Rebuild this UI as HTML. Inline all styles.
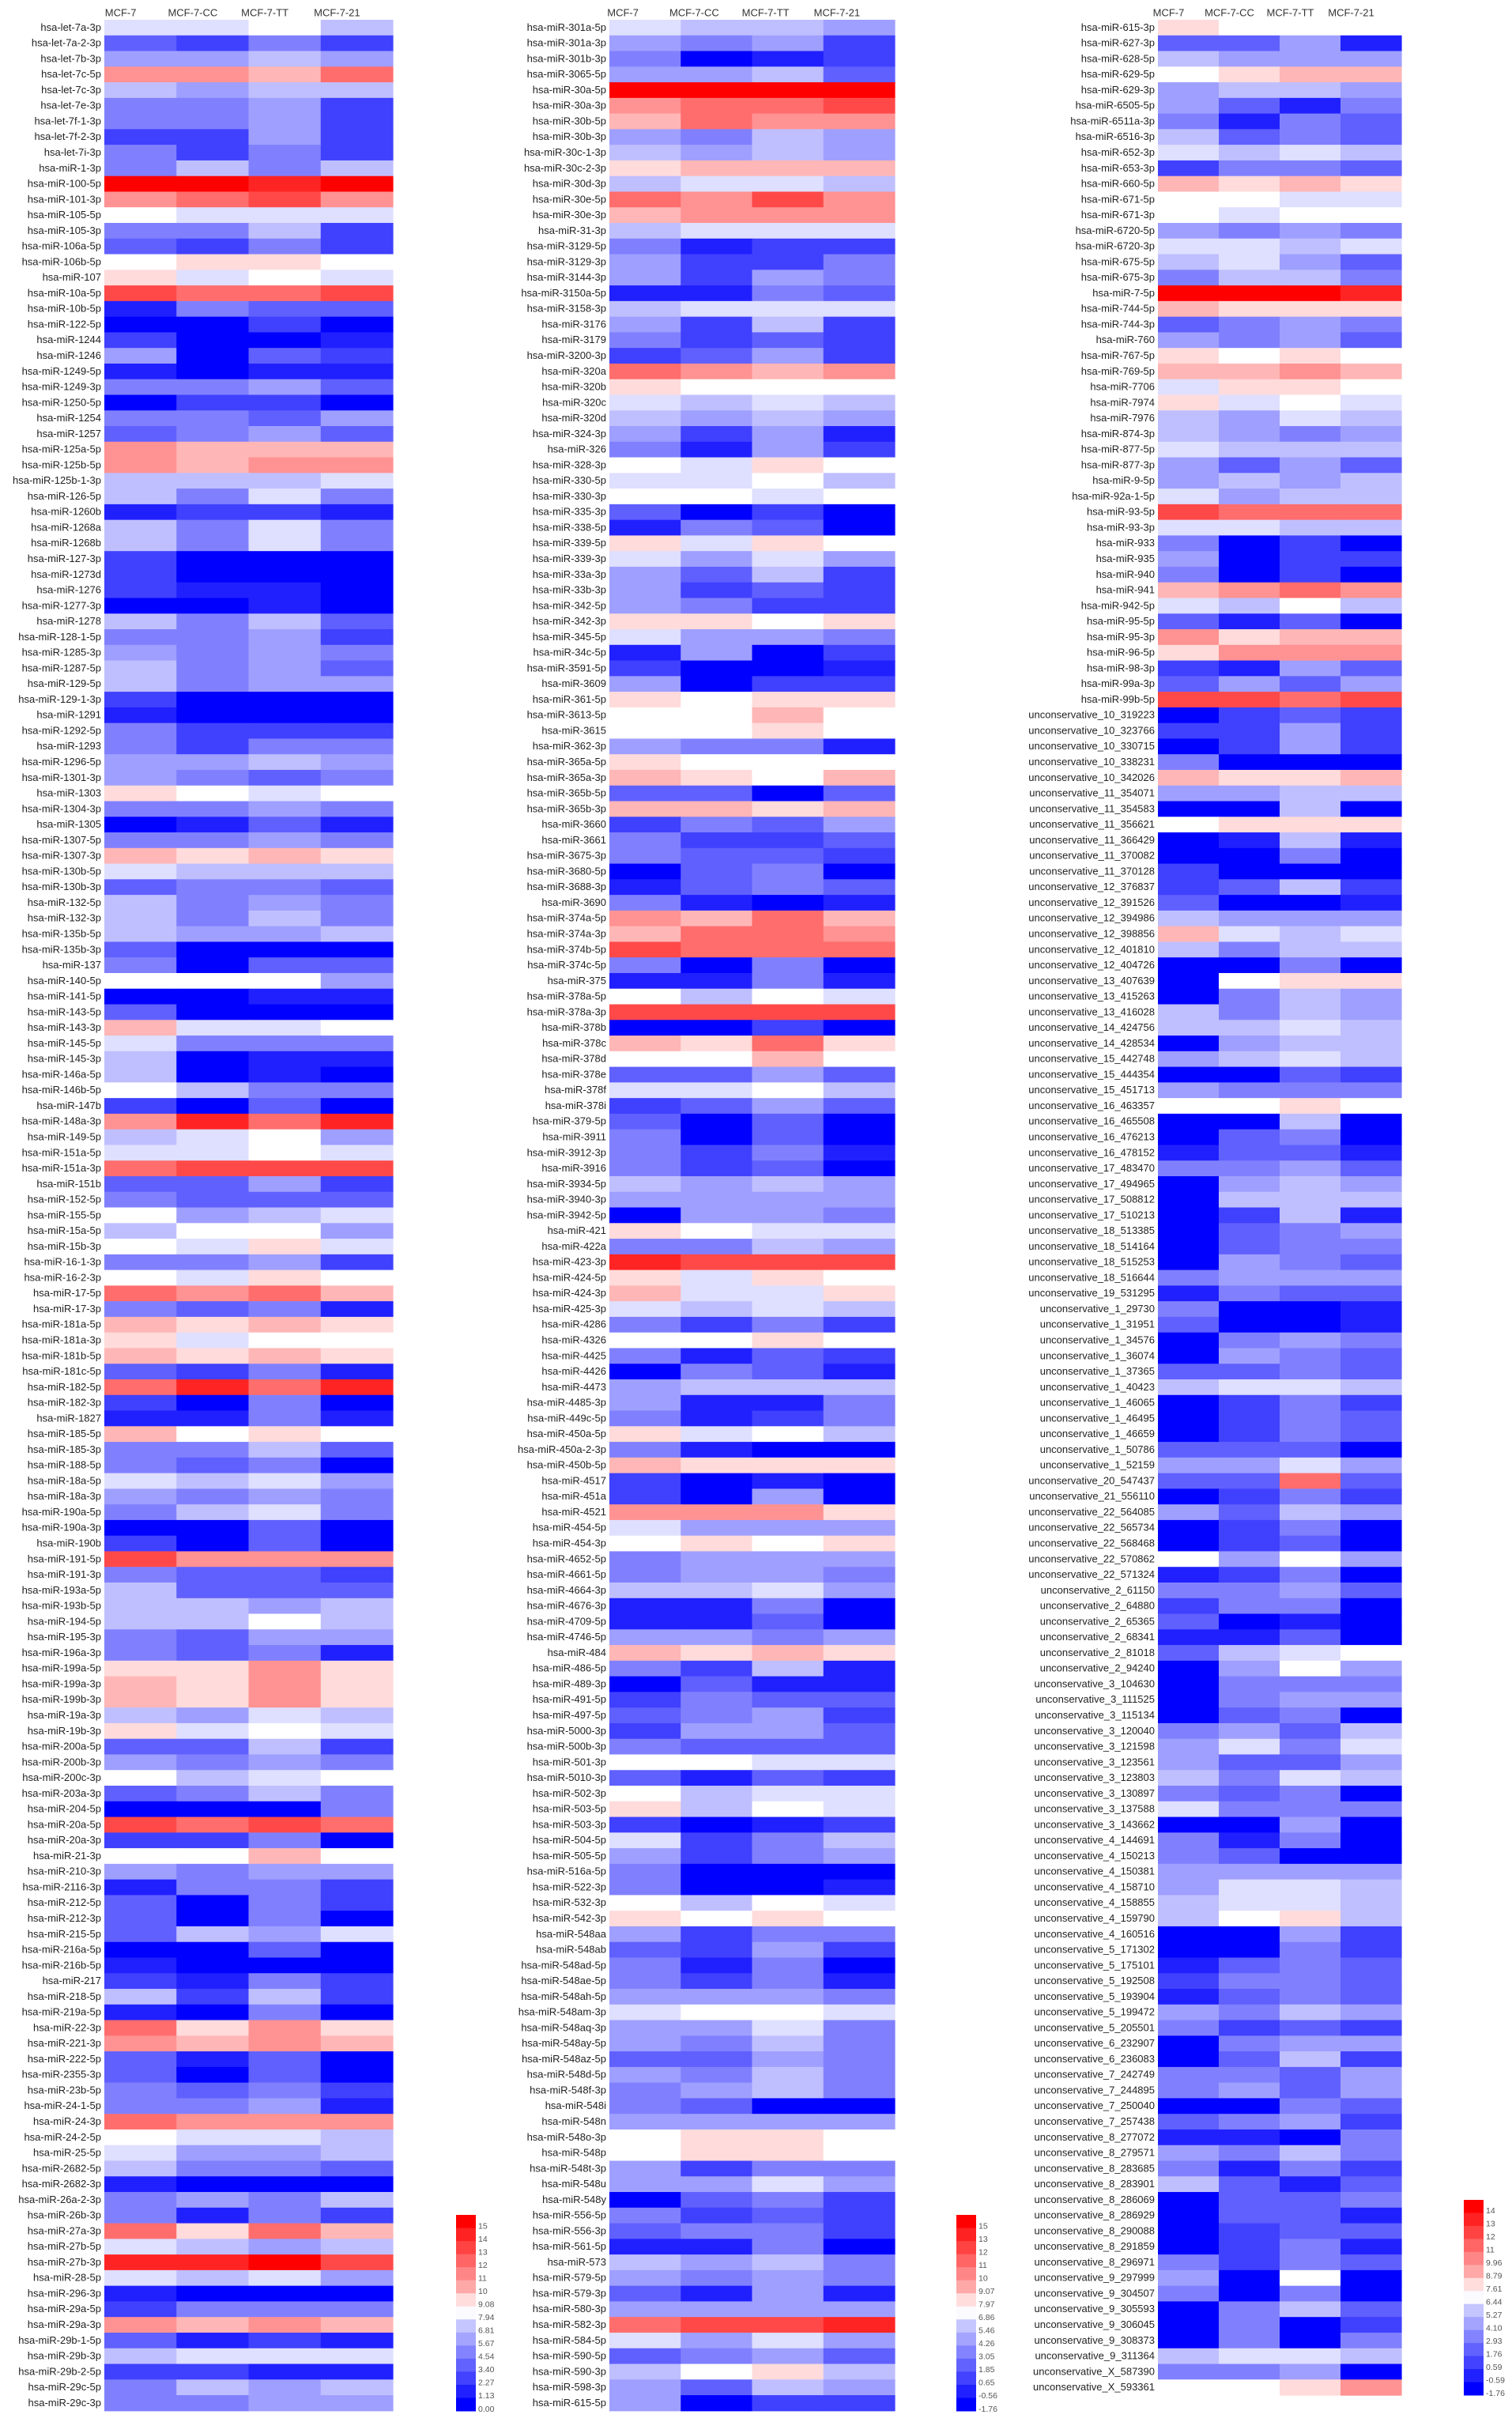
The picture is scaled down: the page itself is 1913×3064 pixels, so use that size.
<!DOCTYPE html>
<html><head><meta charset="utf-8"><title>miRNA heatmap</title>
<style>
html,body{margin:0;padding:0;background:#fff;}
svg{display:block;font-family:"Liberation Sans",Arial,sans-serif;}
</style></head>
<body>
<svg id="chart" xmlns="http://www.w3.org/2000/svg" width="1913" height="3064" viewBox="0 0 1913 3064"></svg>
<script>
const sampleNames = ["MCF-7","MCF-7-CC","MCF-7-TT","MCF-7-21"];

const p1Labels = ["hsa-let-7a-3p","hsa-let-7a-2-3p","hsa-let-7b-3p","hsa-let-7c-5p","hsa-let-7c-3p","hsa-let-7e-3p","hsa-let-7f-1-3p","hsa-let-7f-2-3p","hsa-let-7i-3p","hsa-miR-1-3p","hsa-miR-100-5p","hsa-miR-101-3p","hsa-miR-105-5p","hsa-miR-105-3p","hsa-miR-106a-5p","hsa-miR-106b-5p","hsa-miR-107","hsa-miR-10a-5p","hsa-miR-10b-5p","hsa-miR-122-5p","hsa-miR-1244","hsa-miR-1246","hsa-miR-1249-5p","hsa-miR-1249-3p","hsa-miR-1250-5p","hsa-miR-1254","hsa-miR-1257","hsa-miR-125a-5p","hsa-miR-125b-5p","hsa-miR-125b-1-3p","hsa-miR-126-5p","hsa-miR-1260b","hsa-miR-1268a","hsa-miR-1268b","hsa-miR-127-3p","hsa-miR-1273d","hsa-miR-1276","hsa-miR-1277-3p","hsa-miR-1278","hsa-miR-128-1-5p","hsa-miR-1285-3p","hsa-miR-1287-5p","hsa-miR-129-5p","hsa-miR-129-1-3p","hsa-miR-1291","hsa-miR-1292-5p","hsa-miR-1293","hsa-miR-1296-5p","hsa-miR-1301-3p","hsa-miR-1303","hsa-miR-1304-3p","hsa-miR-1305","hsa-miR-1307-5p","hsa-miR-1307-3p","hsa-miR-130b-5p","hsa-miR-130b-3p","hsa-miR-132-5p","hsa-miR-132-3p","hsa-miR-135b-5p","hsa-miR-135b-3p","hsa-miR-137","hsa-miR-140-5p","hsa-miR-141-5p","hsa-miR-143-5p","hsa-miR-143-3p","hsa-miR-145-5p","hsa-miR-145-3p","hsa-miR-146a-5p","hsa-miR-146b-5p","hsa-miR-147b","hsa-miR-148a-3p","hsa-miR-149-5p","hsa-miR-151a-5p","hsa-miR-151a-3p","hsa-miR-151b","hsa-miR-152-5p","hsa-miR-155-5p","hsa-miR-15a-5p","hsa-miR-15b-3p","hsa-miR-16-1-3p","hsa-miR-16-2-3p","hsa-miR-17-5p","hsa-miR-17-3p","hsa-miR-181a-5p","hsa-miR-181a-3p","hsa-miR-181b-5p","hsa-miR-181c-5p","hsa-miR-182-5p","hsa-miR-182-3p","hsa-miR-1827","hsa-miR-185-5p","hsa-miR-185-3p","hsa-miR-188-5p","hsa-miR-18a-5p","hsa-miR-18a-3p","hsa-miR-190a-5p","hsa-miR-190a-3p","hsa-miR-190b","hsa-miR-191-5p","hsa-miR-191-3p","hsa-miR-193a-5p","hsa-miR-193b-5p","hsa-miR-194-5p","hsa-miR-195-3p","hsa-miR-196a-3p","hsa-miR-199a-5p","hsa-miR-199a-3p","hsa-miR-199b-3p","hsa-miR-19a-3p","hsa-miR-19b-3p","hsa-miR-200a-5p","hsa-miR-200b-3p","hsa-miR-200c-3p","hsa-miR-203a-3p","hsa-miR-204-5p","hsa-miR-20a-5p","hsa-miR-20a-3p","hsa-miR-21-3p","hsa-miR-210-3p","hsa-miR-2116-3p","hsa-miR-212-5p","hsa-miR-212-3p","hsa-miR-215-5p","hsa-miR-216a-5p","hsa-miR-216b-5p","hsa-miR-217","hsa-miR-218-5p","hsa-miR-219a-5p","hsa-miR-22-3p","hsa-miR-221-3p","hsa-miR-222-5p","hsa-miR-2355-3p","hsa-miR-23b-5p","hsa-miR-24-1-5p","hsa-miR-24-3p","hsa-miR-24-2-5p","hsa-miR-25-5p","hsa-miR-2682-5p","hsa-miR-2682-3p","hsa-miR-26a-2-3p","hsa-miR-26b-3p","hsa-miR-27a-3p","hsa-miR-27b-5p","hsa-miR-27b-3p","hsa-miR-28-5p","hsa-miR-296-3p","hsa-miR-29a-5p","hsa-miR-29a-3p","hsa-miR-29b-1-5p","hsa-miR-29b-3p","hsa-miR-29b-2-5p","hsa-miR-29c-5p","hsa-miR-29c-3p"];
const p1Values = [[7,7,8,6],[3,2,4,2],[5,5,6,5],[11,11,10,12],[6,5,6,6],[4,4,5,2],[4,4,5,2],[2,2,5,2],[4,2,4,2],[4,6,4,6],[15,15,14,15],[11,12,13,11],[8,7,7,7],[4,4,6,2],[3,2,4,2],[8,9,9,8],[9,7,8,7],[13,12,12,13],[1,4,3,3],[0,0,2,0],[2,0,0,1],[5,0,3,2],[1,0,1,1],[4,4,5,3],[0,2,2,0],[4,4,3,5],[3,4,5,3],[11,10,10,10],[11,10,11,11],[6,6,6,7],[6,4,7,4],[1,2,2,1],[6,4,7,4],[6,4,7,4],[2,0,0,0],[2,0,0,0],[2,1,1,0],[0,0,1,0],[6,4,6,3],[4,4,5,2],[5,4,5,4],[6,4,5,3],[6,4,5,5],[2,0,0,0],[1,0,0,0],[4,2,2,2],[4,2,4,4],[5,5,6,5],[5,4,3,4],[9,8,7,8],[4,4,5,4],[0,1,3,1],[4,4,5,4],[10,9,10,9],[7,6,6,6],[3,4,4,3],[6,4,5,4],[6,4,6,4],[6,5,5,6],[3,0,0,0],[4,0,3,3],[8,8,8,5],[0,0,1,1],[3,0,0,0],[10,7,7,8],[7,4,4,4],[6,0,1,1],[6,0,1,0],[8,6,4,4],[2,0,3,0],[11,14,12,14],[6,7,8,5],[7,7,8,7],[12,13,13,13],[3,3,5,2],[4,3,3,3],[8,5,6,7],[6,8,8,5],[8,7,9,7],[4,4,5,2],[8,7,9,8],[12,11,12,10],[4,3,4,1],[10,9,10,9],[9,7,8,8],[10,9,10,9],[3,2,4,1],[12,14,12,14],[2,0,4,0],[1,1,4,1],[10,8,9,8],[4,4,6,3],[4,3,4,0],[7,6,7,5],[5,4,5,4],[4,6,7,4],[0,0,3,0],[2,0,3,0],[13,11,11,11],[4,3,3,2],[6,3,3,3],[6,6,5,6],[6,6,8,6],[4,3,5,5],[4,3,4,1],[9,9,11,9],[10,9,11,9],[10,9,11,9],[6,5,7,6],[9,7,8,7],[3,3,6,2],[5,4,5,4],[8,6,7,8],[3,4,6,4],[0,0,0,4],[13,12,13,12],[2,2,4,0],[8,8,10,8],[5,4,5,5],[1,4,4,2],[3,0,4,2],[3,0,4,0],[3,6,5,7],[0,0,3,0],[1,0,0,0],[2,1,4,2],[6,2,6,2],[1,0,4,0],[12,9,11,9],[11,10,11,10],[3,1,3,0],[3,0,3,0],[4,3,4,2],[4,4,5,1],[12,11,11,11],[8,7,7,6],[7,5,5,6],[6,4,4,3],[1,0,0,0],[4,5,4,6],[4,1,4,2],[12,9,12,10],[7,6,5,6],[14,14,15,13],[7,6,7,5],[1,0,0,0],[2,4,4,4],[11,10,11,10],[3,1,2,1],[6,7,7,7],[2,2,1,1],[4,6,5,6],[4,4,5,5]];

const p2Labels = ["hsa-miR-301a-5p","hsa-miR-301a-3p","hsa-miR-301b-3p","hsa-miR-3065-5p","hsa-miR-30a-5p","hsa-miR-30a-3p","hsa-miR-30b-5p","hsa-miR-30b-3p","hsa-miR-30c-1-3p","hsa-miR-30c-2-3p","hsa-miR-30d-3p","hsa-miR-30e-5p","hsa-miR-30e-3p","hsa-miR-31-3p","hsa-miR-3129-5p","hsa-miR-3129-3p","hsa-miR-3144-3p","hsa-miR-3150a-5p","hsa-miR-3158-3p","hsa-miR-3176","hsa-miR-3179","hsa-miR-3200-3p","hsa-miR-320a","hsa-miR-320b","hsa-miR-320c","hsa-miR-320d","hsa-miR-324-3p","hsa-miR-326","hsa-miR-328-3p","hsa-miR-330-5p","hsa-miR-330-3p","hsa-miR-335-3p","hsa-miR-338-5p","hsa-miR-339-5p","hsa-miR-339-3p","hsa-miR-33a-3p","hsa-miR-33b-3p","hsa-miR-342-5p","hsa-miR-342-3p","hsa-miR-345-5p","hsa-miR-34c-5p","hsa-miR-3591-5p","hsa-miR-3609","hsa-miR-361-5p","hsa-miR-3613-5p","hsa-miR-3615","hsa-miR-362-3p","hsa-miR-365a-5p","hsa-miR-365a-3p","hsa-miR-365b-5p","hsa-miR-365b-3p","hsa-miR-3660","hsa-miR-3661","hsa-miR-3675-3p","hsa-miR-3680-5p","hsa-miR-3688-3p","hsa-miR-3690","hsa-miR-374a-5p","hsa-miR-374a-3p","hsa-miR-374b-5p","hsa-miR-374c-5p","hsa-miR-375","hsa-miR-378a-5p","hsa-miR-378a-3p","hsa-miR-378b","hsa-miR-378c","hsa-miR-378d","hsa-miR-378e","hsa-miR-378f","hsa-miR-378i","hsa-miR-379-5p","hsa-miR-3911","hsa-miR-3912-3p","hsa-miR-3916","hsa-miR-3934-5p","hsa-miR-3940-3p","hsa-miR-3942-5p","hsa-miR-421","hsa-miR-422a","hsa-miR-423-3p","hsa-miR-424-5p","hsa-miR-424-3p","hsa-miR-425-3p","hsa-miR-4286","hsa-miR-4326","hsa-miR-4425","hsa-miR-4426","hsa-miR-4473","hsa-miR-4485-3p","hsa-miR-449c-5p","hsa-miR-450a-5p","hsa-miR-450a-2-3p","hsa-miR-450b-5p","hsa-miR-4517","hsa-miR-451a","hsa-miR-4521","hsa-miR-454-5p","hsa-miR-454-3p","hsa-miR-4652-5p","hsa-miR-4661-5p","hsa-miR-4664-3p","hsa-miR-4676-3p","hsa-miR-4709-5p","hsa-miR-4746-5p","hsa-miR-484","hsa-miR-486-5p","hsa-miR-489-3p","hsa-miR-491-5p","hsa-miR-497-5p","hsa-miR-5000-3p","hsa-miR-500b-3p","hsa-miR-501-3p","hsa-miR-5010-3p","hsa-miR-502-3p","hsa-miR-503-5p","hsa-miR-503-3p","hsa-miR-504-5p","hsa-miR-505-5p","hsa-miR-516a-5p","hsa-miR-522-3p","hsa-miR-532-3p","hsa-miR-542-3p","hsa-miR-548aa","hsa-miR-548ab","hsa-miR-548ad-5p","hsa-miR-548ae-5p","hsa-miR-548ah-5p","hsa-miR-548am-3p","hsa-miR-548aq-3p","hsa-miR-548ay-5p","hsa-miR-548az-5p","hsa-miR-548d-5p","hsa-miR-548f-3p","hsa-miR-548i","hsa-miR-548n","hsa-miR-548o-3p","hsa-miR-548p","hsa-miR-548t-3p","hsa-miR-548u","hsa-miR-548y","hsa-miR-556-5p","hsa-miR-556-3p","hsa-miR-561-5p","hsa-miR-573","hsa-miR-579-5p","hsa-miR-579-3p","hsa-miR-580-3p","hsa-miR-582-3p","hsa-miR-584-5p","hsa-miR-590-5p","hsa-miR-590-3p","hsa-miR-598-3p","hsa-miR-615-5p"];
const p2Values = [[7,6,6,5],[5,4,5,2],[4,0,1,2],[5,5,6,3],[15,15,15,15],[11,12,12,13],[10,12,11,11],[5,4,6,5],[6,5,6,5],[9,10,10,10],[6,7,7,6],[12,11,13,11],[10,11,11,11],[6,7,7,7],[4,1,2,2],[5,2,2,4],[5,2,5,4],[1,1,4,3],[6,7,7,7],[5,2,6,2],[4,2,3,2],[2,3,5,2],[12,11,10,11],[9,8,8,8],[7,6,7,6],[6,5,6,5],[5,2,5,1],[4,1,5,2],[8,7,9,8],[7,7,8,6],[8,8,7,8],[3,0,2,0],[1,4,3,0],[9,7,9,8],[7,5,7,5],[5,3,6,2],[5,2,3,2],[5,4,2,2],[9,9,8,9],[7,5,5,4],[1,5,0,2],[2,0,0,1],[5,0,2,2],[9,8,9,9],[8,8,10,8],[8,8,9,8],[5,4,4,1],[9,8,8,8],[10,9,8,10],[3,3,0,3],[10,10,9,10],[2,4,3,5],[4,2,2,3],[4,3,3,2],[0,3,4,0],[1,3,4,3],[4,1,0,1],[11,10,12,10],[10,12,12,11],[13,12,12,12],[4,0,4,0],[1,1,4,1],[8,6,8,7],[13,13,13,13],[0,0,2,0],[10,9,12,9],[8,8,10,8],[3,3,5,3],[7,7,8,6],[2,3,5,3],[3,0,3,0],[4,0,3,0],[4,2,4,1],[4,2,3,0],[6,5,6,5],[5,5,5,5],[0,5,5,4],[9,8,7,7],[4,4,6,5],[14,13,13,13],[9,7,9,8],[10,7,7,9],[7,6,7,6],[4,2,4,2],[8,8,9,8],[4,1,3,2],[0,4,3,1],[5,6,6,6],[5,1,1,4],[4,1,2,4],[9,7,8,6],[4,1,0,0],[10,9,9,9],[2,0,1,0],[2,0,5,0],[11,11,11,9],[7,5,5,5],[8,9,8,9],[4,5,5,5],[4,5,5,4],[6,6,7,5],[1,1,4,0],[1,1,3,0],[5,5,4,5],[10,9,10,9],[4,2,6,1],[0,3,1,1],[2,4,3,3],[3,4,5,2],[2,5,5,3],[4,3,3,3],[8,8,7,7],[3,1,3,2],[8,6,7,7],[9,6,8,7],[2,0,1,2],[7,2,4,6],[5,2,4,5],[4,0,0,0],[4,0,0,1],[8,6,8,7],[9,8,9,8],[5,2,4,4],[3,2,5,2],[4,1,4,0],[4,2,4,1],[5,5,5,4],[7,8,8,7],[5,5,7,4],[5,4,6,4],[3,3,5,4],[5,4,6,4],[4,5,6,4],[4,3,0,0],[5,5,5,5],[8,9,9,8],[8,9,9,8],[5,2,4,4],[5,5,7,5],[0,3,4,2],[4,2,3,2],[3,4,4,2],[1,1,4,0],[6,5,6,4],[5,4,5,4],[3,1,5,1],[5,5,5,5],[12,13,13,14],[7,5,7,5],[3,4,5,3],[6,8,9,6],[5,3,6,5],[5,0,2,2]];

const p3Labels = ["hsa-miR-615-3p","hsa-miR-627-3p","hsa-miR-628-5p","hsa-miR-629-5p","hsa-miR-629-3p","hsa-miR-6505-5p","hsa-miR-6511a-3p","hsa-miR-6516-3p","hsa-miR-652-3p","hsa-miR-653-3p","hsa-miR-660-5p","hsa-miR-671-5p","hsa-miR-671-3p","hsa-miR-6720-5p","hsa-miR-6720-3p","hsa-miR-675-5p","hsa-miR-675-3p","hsa-miR-7-5p","hsa-miR-744-5p","hsa-miR-744-3p","hsa-miR-760","hsa-miR-767-5p","hsa-miR-769-5p","hsa-miR-7706","hsa-miR-7974","hsa-miR-7976","hsa-miR-874-3p","hsa-miR-877-5p","hsa-miR-877-3p","hsa-miR-9-5p","hsa-miR-92a-1-5p","hsa-miR-93-5p","hsa-miR-93-3p","hsa-miR-933","hsa-miR-935","hsa-miR-940","hsa-miR-941","hsa-miR-942-5p","hsa-miR-95-5p","hsa-miR-95-3p","hsa-miR-96-5p","hsa-miR-98-3p","hsa-miR-99a-3p","hsa-miR-99b-5p","unconservative_10_319223","unconservative_10_323766","unconservative_10_330715","unconservative_10_338231","unconservative_10_342026","unconservative_11_354071","unconservative_11_354583","unconservative_11_356621","unconservative_11_366429","unconservative_11_370082","unconservative_11_370128","unconservative_12_376837","unconservative_12_391526","unconservative_12_394986","unconservative_12_398856","unconservative_12_401810","unconservative_12_404726","unconservative_13_407639","unconservative_13_415263","unconservative_13_416028","unconservative_14_424756","unconservative_14_428534","unconservative_15_442748","unconservative_15_444354","unconservative_15_451713","unconservative_16_463357","unconservative_16_465508","unconservative_16_476213","unconservative_16_478152","unconservative_17_483470","unconservative_17_494965","unconservative_17_508812","unconservative_17_510213","unconservative_18_513385","unconservative_18_514164","unconservative_18_515253","unconservative_18_516644","unconservative_19_531295","unconservative_1_29730","unconservative_1_31951","unconservative_1_34576","unconservative_1_36074","unconservative_1_37365","unconservative_1_40423","unconservative_1_46065","unconservative_1_46495","unconservative_1_46659","unconservative_1_50786","unconservative_1_52159","unconservative_20_547437","unconservative_21_556110","unconservative_22_564085","unconservative_22_565734","unconservative_22_568468","unconservative_22_570862","unconservative_22_571324","unconservative_2_61150","unconservative_2_64880","unconservative_2_65365","unconservative_2_68341","unconservative_2_81018","unconservative_2_94240","unconservative_3_104630","unconservative_3_111525","unconservative_3_115134","unconservative_3_120040","unconservative_3_121598","unconservative_3_123561","unconservative_3_123803","unconservative_3_130897","unconservative_3_137588","unconservative_3_143662","unconservative_4_144691","unconservative_4_150213","unconservative_4_150381","unconservative_4_158710","unconservative_4_158855","unconservative_4_159790","unconservative_4_160516","unconservative_5_171302","unconservative_5_175101","unconservative_5_192508","unconservative_5_193904","unconservative_5_199472","unconservative_5_205501","unconservative_6_232907","unconservative_6_236083","unconservative_7_242749","unconservative_7_244895","unconservative_7_250040","unconservative_7_257438","unconservative_8_277072","unconservative_8_279571","unconservative_8_283685","unconservative_8_283901","unconservative_8_286069","unconservative_8_286929","unconservative_8_290088","unconservative_8_291859","unconservative_8_296971","unconservative_9_297999","unconservative_9_304507","unconservative_9_305593","unconservative_9_306045","unconservative_9_308373","unconservative_9_311364","unconservative_X_587390","unconservative_X_593361"];
const p3Values = [[9,8,8,8],[3,3,5,1],[6,5,5,5],[8,9,10,10],[5,6,6,5],[5,3,1,4],[4,1,4,3],[6,3,4,3],[7,6,7,6],[2,4,4,3],[10,9,10,9],[8,8,7,7],[8,7,8,8],[5,4,5,4],[7,7,6,7],[6,7,5,3],[4,6,6,4],[15,15,15,14],[10,9,9,9],[3,4,5,4],[5,4,5,3],[9,8,9,8],[10,10,11,10],[7,9,9,8],[9,7,8,7],[6,5,7,6],[6,5,4,5],[7,6,6,6],[5,3,5,3],[5,6,5,6],[7,5,6,6],[13,12,12,12],[7,7,6,6],[4,0,2,0],[5,0,2,2],[4,0,2,0],[10,11,12,11],[7,6,8,6],[3,1,3,0],[11,9,10,10],[9,11,11,11],[2,1,5,3],[3,5,3,5],[13,13,12,13],[0,2,3,2],[2,2,5,2],[0,2,5,2],[4,0,0,0],[10,9,9,10],[5,5,6,6],[0,0,6,0],[8,9,9,9],[0,1,6,1],[0,0,4,0],[2,0,0,0],[2,3,6,2],[3,0,0,1],[6,5,5,5],[10,7,6,7],[6,4,6,6],[0,0,4,0],[0,8,9,9],[0,4,6,5],[6,4,6,5],[6,6,7,6],[0,5,6,6],[5,6,7,6],[0,0,3,2],[5,4,4,4],[8,8,9,8],[0,0,6,0],[0,3,4,0],[1,3,3,1],[4,4,5,3],[0,5,6,5],[0,6,6,6],[0,2,6,1],[0,3,4,5],[0,3,4,4],[0,5,4,3],[4,5,5,5],[1,4,3,3],[4,0,0,1],[3,0,0,1],[0,4,5,4],[0,5,4,3],[3,3,4,3],[6,7,7,6],[0,2,4,2],[0,2,4,3],[0,2,4,3],[3,3,3,0],[5,5,7,5],[3,3,12,3],[0,2,4,2],[5,3,6,5],[0,2,4,0],[0,2,3,0],[8,5,8,5],[1,2,4,0],[4,4,5,3],[2,4,4,0],[3,0,1,0],[1,1,3,0],[3,6,7,8],[0,5,8,5],[0,4,4,4],[0,4,5,5],[0,3,4,0],[4,5,3,6],[5,7,4,7],[5,3,3,5],[6,4,7,6],[4,3,4,0],[7,4,4,4],[0,0,5,0],[4,1,4,0],[4,3,0,0],[5,5,5,5],[5,7,7,6],[6,7,7,6],[6,8,9,6],[0,0,5,2],[0,0,4,2],[1,3,4,3],[2,4,4,3],[1,3,4,3],[5,4,6,5],[4,2,3,2],[0,4,5,5],[0,3,6,2],[4,4,3,5],[4,5,3,5],[0,0,4,3],[3,4,5,2],[1,1,0,4],[5,4,6,4],[4,1,4,2],[6,3,1,3],[0,3,3,4],[0,3,3,1],[0,2,3,3],[0,2,4,1],[4,2,4,3],[5,0,8,0],[4,0,4,0],[0,4,6,3],[0,4,0,2],[0,4,0,4],[6,7,7,6],[4,4,5,0],[8,8,9,11]];

const cb1Ticks = ["15","14","13","12","11","10","9.08","7.94","6.81","5.67","4.54","3.40","2.27","1.13","0.00"];
const cb2Ticks = ["15","13","12","11","10","9.07","7.97","6.86","5.46","4.26","3.05","1.85","0.65","-0.56","-1.76"];
const cb3Ticks = ["14","13","12","11","9.96","8.79","7.61","6.44","5.27","4.10","2.93","1.76","0.59","-0.59","-1.76"];

const NS = "http://www.w3.org/2000/svg";
const svg = document.getElementById("chart");
const ROW_TOP = 25, ROW_H = 19.77;
const VMIN = 0, VMID = 8, VMAX = 15;

function colorFor(v){
  let r,g,b;
  if (v <= VMID){
    const t = Math.max(0, (v - VMIN) / (VMID - VMIN));
    r = Math.round(255 * t); g = r; b = 255;
  } else {
    const t = Math.min(1, (v - VMID) / (VMAX - VMID));
    r = 255; g = Math.round(255 * (1 - t)); b = g;
  }
  return "rgb(" + r + "," + g + "," + b + ")";
}
function yScale(i){ return ROW_TOP + i * ROW_H; }
function mk(tag, attrs){
  const e = document.createElementNS(NS, tag);
  for (const k in attrs) e.setAttribute(k, attrs[k]);
  return e;
}

function drawPanel(id, labels, values, x0, x1, headerOffset){
  const g = mk("g", {});
  
  
  svg.appendChild(g);
  const cw = (x1 - x0) / sampleNames.length;
  function xScale(j){ return x0 + j * cw; }
  sampleNames.forEach((s, j) => {
    const t = mk("text", {x: xScale(j) + cw/2 + headerOffset, y: 17, "text-anchor": "middle", "dominant-baseline": "middle", "font-size": "13", fill: "#333"});
    
    
    t.textContent = s;
    g.appendChild(t);
  });
  labels.forEach((lab, i) => {
    const t = mk("text", {x: x0 - 4, y: yScale(i) + ROW_H/2 + 0.5, "text-anchor": "end", "dominant-baseline": "middle", "font-size": "13", fill: "#222"});
    
    
    t.textContent = lab;
    g.appendChild(t);
    values[i].forEach((v, j) => {
      const r = mk("rect", {x: xScale(j), y: yScale(i), width: cw + 0.6, height: ROW_H + 0.6, fill: colorFor(v)});
      
      
      g.appendChild(r);
    });
  });
}

function drawColorbar(id, ticks, x, y0, y1){
  const g = mk("g", {});
  
  
  svg.appendChild(g);
  const n = ticks.length, bh = (y1 - y0) / n;
  for (let i = 0; i < n; i++){
    let c;
    if (i < 7){ const t = (7 - i) / 7; const k = Math.round(255 * (1 - t) * 0.92 + (i===6?20:0)); c = "rgb(255," + Math.min(255,k) + "," + Math.min(255,k) + ")"; }
    else if (i === 7){ c = "rgb(250,250,255)"; }
    else { const t = (i - 7) / 7; const k = Math.round(255 * (1 - t) * 0.9); c = "rgb(" + k + "," + k + ",255)"; }
    const r = mk("rect", {x: x, y: y0 + i * bh, width: 25, height: bh + 0.5, fill: c});
    
    
    g.appendChild(r);
    const t = mk("text", {x: x + 28, y: y0 + (i + 1) * bh - 2, "font-size": "10.5", fill: "#555", "dominant-baseline": "middle"});
    
    
    t.textContent = ticks[i];
    g.appendChild(t);
  }
}

drawPanel("heatmap-panel-1", p1Labels, p1Values, 132, 497, -25);
drawPanel("heatmap-panel-2", p2Labels, p2Values, 771, 1132, -28);
drawPanel("heatmap-panel-3", p3Labels, p3Values, 1465, 1773, -25);
drawColorbar("colorbar-1", cb1Ticks, 577, 2802, 3050);
drawColorbar("colorbar-2", cb2Ticks, 1210, 2802, 3050);
drawColorbar("colorbar-3", cb3Ticks, 1852, 2783, 3030);
</script>
</body></html>
